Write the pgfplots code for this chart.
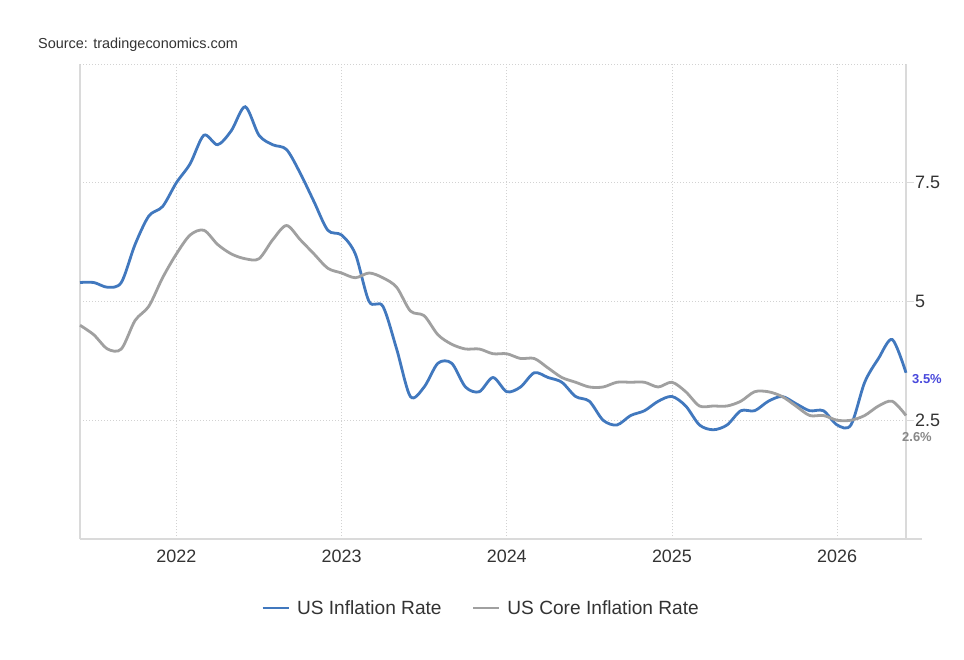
\documentclass[border=0pt]{standalone}
\usepackage{pgfplots}
\pgfplotsset{compat=1.18}
\usepackage{fontspec}
\setmainfont{Liberation Sans}
\definecolor{tblue}{RGB}{65,120,190}
\definecolor{tgray}{RGB}{160,160,160}
\definecolor{axgray}{RGB}{218,218,218}
\definecolor{gridgray}{RGB}{210,210,210}
\definecolor{txt}{RGB}{51,51,51}
\definecolor{lblblue}{RGB}{72,72,220}
\definecolor{lblgray}{RGB}{136,136,136}
\begin{document}
\begin{tikzpicture}
\path[use as bounding box, fill=white] (0,0) rectangle (964bp,660bp);
\node[anchor=west, text=txt, font=\fontsize{14.5}{16}\selectfont, inner sep=0pt] at (38bp,615bp) {Source: tradingeconomics.com};
\begin{axis}[
  at={(80bp,121bp)}, anchor=south west,
  scale only axis, width=826bp, height=475bp,
  xmin=0, xmax=60, ymin=0, ymax=10,
  axis line style={draw=none},
  xtick={7,19,31,43,55},
  xticklabels={2022,2023,2024,2025,2026},
  ytick={2.5,5,7.5},
  yticklabels={2.5,5,7.5},
  yticklabel pos=right,
  ytick pos=right,
  tick align=outside,
  xtick style={draw=none},
  ytick style={draw=axgray, line width=1bp},
  major tick length=8bp,
  grid=major,
  major grid style={dash pattern=on 1.1bp off 1.9bp, draw=gridgray, line width=0.9bp},
  /pgf/number format/assume math mode=true,
  ticklabel style={font=\fontsize{18}{21}\selectfont, text=txt},
  xticklabel style={yshift=1bp},
  yticklabel style={inner sep=1bp},
  legend style={at={(0.4855,-0.1453)}, anchor=center, draw=none, fill=none,
    font=\fontsize{19.2}{22}\selectfont, text=txt, legend columns=2,
    /tikz/every odd column/.append style={column sep=5bp},
    /tikz/every even column/.append style={column sep=28bp}},
  legend image code/.code={\draw[#1] (0bp,0bp) -- (26bp,0bp);},
  clip=false,
]
\draw[axgray, line width=1.2bp] (rel axis cs:0,0) -- (rel axis cs:0,1);
\draw[axgray, line width=1.5bp] (rel axis cs:1,0) -- (rel axis cs:1,1);
\draw[axgray, line width=1.5bp] (rel axis cs:0,0) -- ([xshift=16bp]rel axis cs:1,0);
\draw[gridgray, dash pattern=on 1.1bp off 1.9bp, line width=0.9bp] (rel axis cs:0,1) -- (rel axis cs:1,1);
\addplot[tblue, line width=2.8bp, smooth, tension=0.5] coordinates {
(0,5.4)(1,5.4)(2,5.3)(3,5.4)(4,6.2)(5,6.8)(6,7.0)
(7,7.5)(8,7.9)(9,8.5)(10,8.3)(11,8.6)(12,9.1)(13,8.5)(14,8.3)(15,8.2)(16,7.7)(17,7.1)(18,6.5)
(19,6.4)(20,6.0)(21,5.0)(22,4.9)(23,4.0)(24,3.0)(25,3.2)(26,3.7)(27,3.7)(28,3.2)(29,3.1)(30,3.4)
(31,3.1)(32,3.2)(33,3.5)(34,3.4)(35,3.3)(36,3.0)(37,2.9)(38,2.5)(39,2.4)(40,2.6)(41,2.7)(42,2.9)
(43,3.0)(44,2.8)(45,2.4)(46,2.3)(47,2.4)(48,2.7)(49,2.7)(50,2.9)(51,3.0)(52,2.85)(53,2.7)(54,2.7)
(55,2.4)(56,2.4)(57,3.3)(58,3.8)(59,4.2)(60,3.5)
};
\addlegendentry{US Inflation Rate}
\addplot[tgray, line width=2.8bp, smooth, tension=0.5] coordinates {
(0,4.5)(1,4.3)(2,4.0)(3,4.0)(4,4.6)(5,4.9)(6,5.5)
(7,6.0)(8,6.4)(9,6.5)(10,6.2)(11,6.0)(12,5.9)(13,5.9)(14,6.3)(15,6.6)(16,6.3)(17,6.0)(18,5.7)
(19,5.6)(20,5.5)(21,5.6)(22,5.5)(23,5.3)(24,4.8)(25,4.7)(26,4.3)(27,4.1)(28,4.0)(29,4.0)(30,3.9)
(31,3.9)(32,3.8)(33,3.8)(34,3.6)(35,3.4)(36,3.3)(37,3.2)(38,3.2)(39,3.3)(40,3.3)(41,3.3)(42,3.2)
(43,3.3)(44,3.1)(45,2.8)(46,2.8)(47,2.8)(48,2.9)(49,3.1)(50,3.1)(51,3.0)(52,2.8)(53,2.6)(54,2.6)
(55,2.5)(56,2.5)(57,2.6)(58,2.8)(59,2.9)(60,2.6)
};
\addlegendentry{US Core Inflation Rate}
\node[anchor=west, text=lblblue, font=\bfseries\fontsize{13}{15}\selectfont, inner sep=0pt] at ([xshift=6bp,yshift=-6bp]axis cs:60,3.5) {3.5\%};
\node[anchor=center, text=lblgray, font=\bfseries\fontsize{13}{15}\selectfont, inner sep=0pt] at ([xshift=11bp,yshift=-22bp]axis cs:60,2.6) {2.6\%};
\end{axis}
\end{tikzpicture}
\end{document}
